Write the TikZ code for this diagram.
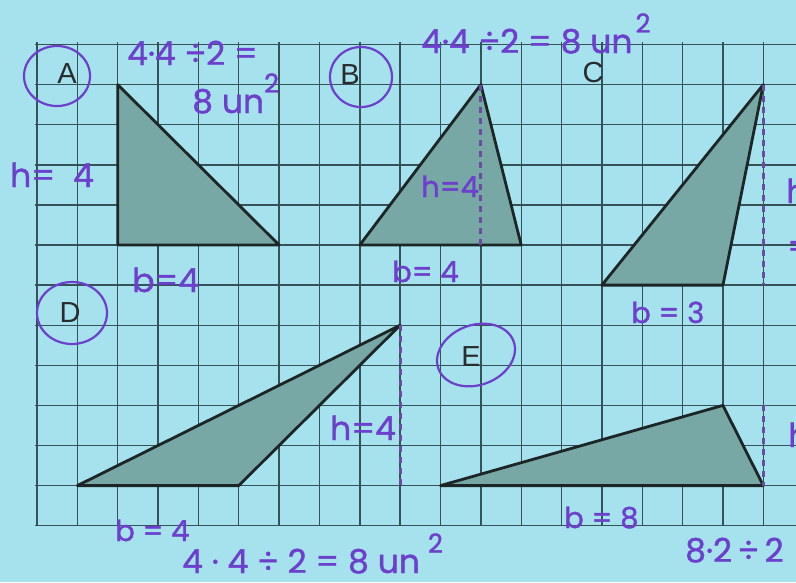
\documentclass[tikz,border=0pt]{standalone}
\usepackage{fontspec}
\setmainfont{Liberation Sans}
\newfontfamily\handfont[FakeBold=1.2]{Poppins}
\definecolor{bg}{RGB}{166,226,238}
\definecolor{gridc}{RGB}{52,82,88}
\definecolor{trifill}{RGB}{120,168,166}
\definecolor{triedge}{RGB}{28,38,38}
\definecolor{ink}{RGB}{108,64,205}
\definecolor{dashink}{RGB}{105,78,160}
\definecolor{lettc}{RGB}{40,44,46}
\newcommand{\sq}{\raisebox{0.62em}{\fontsize{26}{28}\selectfont 2}}
\tikzset{
  gridline/.style={draw=gridc,line width=1.4pt},
  tri/.style={fill=trifill,draw=triedge,line width=2.8pt,line join=round},
  heightline/.style={draw=dashink,line width=3pt,dash pattern=on 6pt off 5pt},
  hand/.style={text=ink,font=\handfont\fontsize{33}{36}\selectfont,inner sep=0pt,anchor=base west},
  handsm/.style={hand,font=\handfont\fontsize{29}{32}\selectfont},
  lett/.style={text=lettc,font=\fontsize{29}{30}\selectfont,inner sep=0pt},
  ring/.style={draw=ink,line width=2.2pt}
}
\begin{document}
\begin{tikzpicture}[x=1pt,y=-1pt]
\useasboundingbox (0,0) rectangle (796,582);
\clip (0,0) rectangle (796,582);
\fill[bg] (0,0) rectangle (796,582);
\begin{scope}[shift={(37,44.5)},x=40.35pt,y=-40.1pt]
  \foreach \i in {0,...,18} \draw[gridline] (\i,-0.05) -- (\i,12);
  \foreach \j in {0,...,12} \draw[gridline] (-0.05,\j) -- (19.5,\j);
  % vertices
  \coordinate (A1) at (2,1); \coordinate (A2) at (2,5); \coordinate (A3) at (6,5);
  \coordinate (B1) at (8,5); \coordinate (B2) at (11,1); \coordinate (B3) at (12,5); \coordinate (Bh) at (11,5);
  \coordinate (C1) at (14,6); \coordinate (C2) at (18,1); \coordinate (C3) at (17,6); \coordinate (Ch) at (18,6);
  \coordinate (D1) at (1,11); \coordinate (D2) at (5,11); \coordinate (D3) at (9,7); \coordinate (Dh) at (9,11);
  \coordinate (E1) at (10,11); \coordinate (E2) at (18,11); \coordinate (E3) at (17,9); \coordinate (Eh) at (18,9);
  \filldraw[tri] (A1) -- (A2) -- (A3) -- cycle;
  \filldraw[tri] (B1) -- (B2) -- (B3) -- cycle;
  \filldraw[tri] (C1) -- (C2) -- (C3) -- cycle;
  \filldraw[tri] (D1) -- (D2) -- (D3) -- cycle;
  \filldraw[tri] (E1) -- (E2) -- (E3) -- cycle;
  \draw[heightline] (B2) -- (Bh);
  \draw[heightline] (C2) -- (Ch);
  \draw[heightline] (D3) -- (Dh);
  \draw[heightline] (Eh) -- (E2);
\end{scope}
% letters with rings
\draw[ring] (57,76) ellipse [x radius=33, y radius=30];
\node[lett] (la) at (67,74) {A};
\draw[ring] (361,77) ellipse [x radius=31, y radius=30];
\node[lett] (lb) at (350,75) {B};
\node[lett] (lc) at (593,73) {C};
\draw[ring] (72,313) ellipse [x radius=35, y radius=31];
\node[lett] (ld) at (70,313) {D};
\draw[ring,rotate around={20:(476,355)}] (476,355) ellipse [x radius=40, y radius=30];
\node[lett] (le) at (471,357) {E};
% handwriting
\node[hand] (t1) at (127,65) {4·4 ÷2 =};
\node[hand] (t2) at (192,113) {8 un\sq};
\node[hand] (t3) at (10,187) {h=\hspace{18pt}4};
\node[hand] (t4) at (132,292) {b=4};
\node[hand] (t5) at (421,53) {4·4 ÷2 = 8 un\hspace{3pt}\sq};
\node[handsm] (t6) at (421,197) {h=4};
\node[handsm] (t7) at (392,282) {b= 4};
\node[hand] (t8) at (786,203) {h};
\node[hand] (t8b) at (787,258) {=};
\node[handsm] (t9) at (631,323) {b = 3};
\node[hand] (t10) at (330,440) {h=4};
\node[handsm] (t11) at (115,541) {b = 4};
\node[hand] (t12) at (182,573) {4 · 4 ÷ 2 = 8 un\hspace{8pt}\sq};
\node[handsm] (t13) at (564,528) {b = 8};
\node[hand] (t14) at (788,447) {h};
\node[hand] (t15) at (685,562) {8·2\,÷\,2};
\end{tikzpicture}
\end{document}
